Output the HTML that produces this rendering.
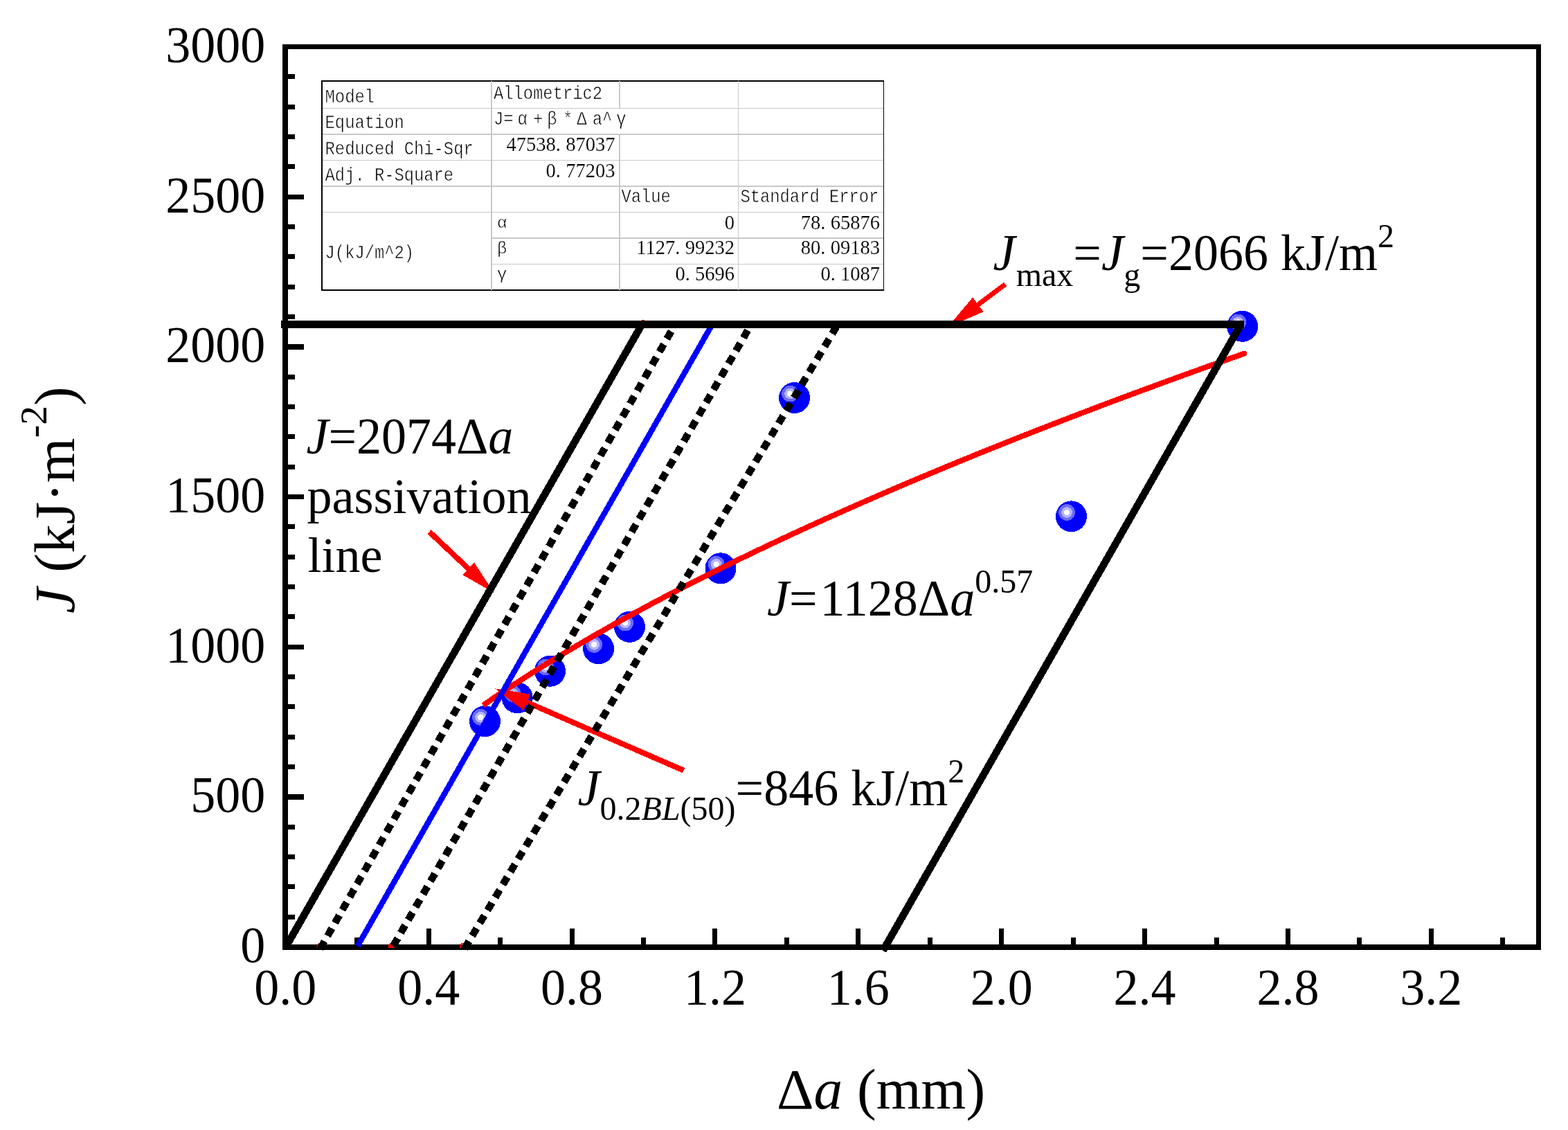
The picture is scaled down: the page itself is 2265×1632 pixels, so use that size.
<!DOCTYPE html>
<html lang="en"><head><meta charset="utf-8"><title>J-R curve</title>
<style>
html,body{margin:0;padding:0;background:#fff;}
body{width:2265px;height:1632px;}
svg{display:block;}
.t{font-family:"Liberation Serif",serif;fill:#000;}
.i{font-style:italic;}
.tb{font-family:"Liberation Mono",monospace;font-size:23.8px;fill:#000;stroke:#fff;stroke-width:0.5;}
.tn{font-family:"Liberation Serif",serif;font-size:28.56px;fill:#000;stroke:#fff;stroke-width:0.15;}
</style></head><body>
<svg width="2265" height="1632" viewBox="0 0 2265 1632">
<rect width="2265" height="1632" fill="#fff"/>
<g id="frame" fill="#000" shape-rendering="crispEdges">
<rect x="408" y="64" width="8" height="1308"/>
<rect x="408" y="64" width="1818" height="7"/>
<rect x="2219" y="64" width="7" height="1308"/>
<rect x="408" y="1364" width="1818" height="8"/>
<rect x="416" y="1321" width="10" height="7"/>
<rect x="416" y="1277" width="10" height="7"/>
<rect x="416" y="1234" width="10" height="7"/>
<rect x="416" y="1191" width="10" height="7"/>
<rect x="416" y="1147" width="23" height="8"/>
<rect x="416" y="1104" width="10" height="7"/>
<rect x="416" y="1061" width="10" height="7"/>
<rect x="416" y="1017" width="10" height="7"/>
<rect x="416" y="974" width="10" height="7"/>
<rect x="416" y="931" width="23" height="7"/>
<rect x="416" y="887" width="10" height="7"/>
<rect x="416" y="844" width="10" height="7"/>
<rect x="416" y="801" width="10" height="7"/>
<rect x="416" y="757" width="10" height="7"/>
<rect x="416" y="714" width="23" height="7"/>
<rect x="416" y="671" width="10" height="7"/>
<rect x="416" y="627" width="10" height="7"/>
<rect x="416" y="584" width="10" height="7"/>
<rect x="416" y="541" width="10" height="7"/>
<rect x="416" y="497" width="23" height="8"/>
<rect x="416" y="454" width="10" height="7"/>
<rect x="416" y="411" width="10" height="7"/>
<rect x="416" y="367" width="10" height="7"/>
<rect x="416" y="324" width="10" height="7"/>
<rect x="416" y="281" width="23" height="7"/>
<rect x="416" y="237" width="10" height="7"/>
<rect x="416" y="194" width="10" height="7"/>
<rect x="416" y="151" width="10" height="7"/>
<rect x="416" y="107" width="10" height="7"/>
<rect x="512" y="1354" width="7" height="10"/>
<rect x="616" y="1341" width="7" height="23"/>
<rect x="719" y="1354" width="7" height="10"/>
<rect x="823" y="1341" width="7" height="23"/>
<rect x="926" y="1354" width="7" height="10"/>
<rect x="1029" y="1341" width="7" height="23"/>
<rect x="1133" y="1354" width="7" height="10"/>
<rect x="1236" y="1341" width="7" height="23"/>
<rect x="1340" y="1354" width="7" height="10"/>
<rect x="1443" y="1341" width="7" height="23"/>
<rect x="1547" y="1354" width="7" height="10"/>
<rect x="1650" y="1341" width="7" height="23"/>
<rect x="1754" y="1354" width="7" height="10"/>
<rect x="1857" y="1341" width="7" height="23"/>
<rect x="1960" y="1354" width="7" height="10"/>
<rect x="2064" y="1341" width="7" height="23"/>
<rect x="2167" y="1354" width="7" height="10"/>
</g>
<g id="ticklabels" class="t" font-size="72">
<text transform="translate(383.2 1389.9) scale(1 1.028)" text-anchor="end">0</text>
<text transform="translate(383.2 1173.27) scale(1 1.028)" text-anchor="end">500</text>
<text transform="translate(383.2 956.65) scale(1 1.028)" text-anchor="end">1000</text>
<text transform="translate(383.2 740.02) scale(1 1.028)" text-anchor="end">1500</text>
<text transform="translate(383.2 523.4) scale(1 1.028)" text-anchor="end">2000</text>
<text transform="translate(383.2 306.77) scale(1 1.028)" text-anchor="end">2500</text>
<text transform="translate(383.2 90.15) scale(1 1.028)" text-anchor="end">3000</text>
<text transform="translate(412.3 1451) scale(1 1.028)" text-anchor="middle">0.0</text>
<text transform="translate(619.18 1451) scale(1 1.028)" text-anchor="middle">0.4</text>
<text transform="translate(826.06 1451) scale(1 1.028)" text-anchor="middle">0.8</text>
<text transform="translate(1032.94 1451) scale(1 1.028)" text-anchor="middle">1.2</text>
<text transform="translate(1239.82 1451) scale(1 1.028)" text-anchor="middle">1.6</text>
<text transform="translate(1446.7 1451) scale(1 1.028)" text-anchor="middle">2.0</text>
<text transform="translate(1653.58 1451) scale(1 1.028)" text-anchor="middle">2.4</text>
<text transform="translate(1860.46 1451) scale(1 1.028)" text-anchor="middle">2.8</text>
<text transform="translate(2067.34 1451) scale(1 1.028)" text-anchor="middle">3.2</text>
</g>
<text id="xtitle" class="t" font-size="83.3" x="1122" y="1601">Δ<tspan class="i">a</tspan> (mm)</text>
<text id="ytitle" class="t" font-size="83.3" transform="translate(106.6 886) rotate(-90)"><tspan class="i">J</tspan><tspan dx="1.5"> (kJ·m</tspan><tspan font-size="55.56" dy="-39.98">-2</tspan><tspan dy="39.98">)</tspan></text>
<g id="data" shape-rendering="crispEdges">
<g transform="translate(700.5 1041.7)"><circle r="22.5" fill="#0000ff"/><circle cx="-6.4" cy="-5.9" r="11.9" fill="#6b6bff"/><circle cx="-6.4" cy="-5.9" r="7.9" fill="#b4b4ff"/><circle cx="-6.4" cy="-5.9" r="4.2" fill="#fafaff"/></g>
<g transform="translate(747.2 1007.8)"><circle r="22.5" fill="#0000ff"/><circle cx="-6.4" cy="-5.9" r="11.9" fill="#6b6bff"/><circle cx="-6.4" cy="-5.9" r="7.9" fill="#b4b4ff"/><circle cx="-6.4" cy="-5.9" r="4.2" fill="#fafaff"/></g>
<g transform="translate(794.5 969.3)"><circle r="22.5" fill="#0000ff"/><circle cx="-6.4" cy="-5.9" r="11.9" fill="#6b6bff"/><circle cx="-6.4" cy="-5.9" r="7.9" fill="#b4b4ff"/><circle cx="-6.4" cy="-5.9" r="4.2" fill="#fafaff"/></g>
<g transform="translate(864.6 936.8)"><circle r="22.5" fill="#0000ff"/><circle cx="-6.4" cy="-5.9" r="11.9" fill="#6b6bff"/><circle cx="-6.4" cy="-5.9" r="7.9" fill="#b4b4ff"/><circle cx="-6.4" cy="-5.9" r="4.2" fill="#fafaff"/></g>
<g transform="translate(909.5 905.4)"><circle r="22.5" fill="#0000ff"/><circle cx="-6.4" cy="-5.9" r="11.9" fill="#6b6bff"/><circle cx="-6.4" cy="-5.9" r="7.9" fill="#b4b4ff"/><circle cx="-6.4" cy="-5.9" r="4.2" fill="#fafaff"/></g>
<g transform="translate(1041 820.8)"><circle r="22.5" fill="#0000ff"/><circle cx="-6.4" cy="-5.9" r="11.9" fill="#6b6bff"/><circle cx="-6.4" cy="-5.9" r="7.9" fill="#b4b4ff"/><circle cx="-6.4" cy="-5.9" r="4.2" fill="#fafaff"/></g>
<g transform="translate(1147.6 574.5)"><circle r="22.5" fill="#0000ff"/><circle cx="-6.4" cy="-5.9" r="11.9" fill="#6b6bff"/><circle cx="-6.4" cy="-5.9" r="7.9" fill="#b4b4ff"/><circle cx="-6.4" cy="-5.9" r="4.2" fill="#fafaff"/></g>
<g transform="translate(1547.5 745.9)"><circle r="22.5" fill="#0000ff"/><circle cx="-6.4" cy="-5.9" r="11.9" fill="#6b6bff"/><circle cx="-6.4" cy="-5.9" r="7.9" fill="#b4b4ff"/><circle cx="-6.4" cy="-5.9" r="4.2" fill="#fafaff"/></g>
<g transform="translate(1794.7 471.3)"><circle r="22.5" fill="#0000ff"/><circle cx="-6.4" cy="-5.9" r="11.9" fill="#6b6bff"/><circle cx="-6.4" cy="-5.9" r="7.9" fill="#b4b4ff"/><circle cx="-6.4" cy="-5.9" r="4.2" fill="#fafaff"/></g>
</g>
<polyline id="fit" shape-rendering="crispEdges" points="697.79,1018.72 706.96,1012.39 716.12,1006.15 725.28,999.99 734.45,993.91 743.61,987.9 752.77,981.96 761.94,976.09 771.1,970.28 780.26,964.54 789.43,958.86 798.59,953.24 807.75,947.68 816.91,942.17 826.08,936.71 835.24,931.31 844.4,925.96 853.57,920.65 862.73,915.4 871.89,910.18 881.06,905.02 890.22,899.89 899.38,894.81 908.54,889.77 917.71,884.77 926.87,879.81 936.03,874.89 945.2,870 954.36,865.15 963.52,860.33 972.69,855.55 981.85,850.8 991.01,846.09 1000.18,841.41 1009.34,836.75 1018.5,832.13 1027.66,827.54 1036.83,822.98 1045.99,818.45 1055.15,813.94 1064.32,809.47 1073.48,805.02 1082.64,800.59 1091.81,796.19 1100.97,791.82 1110.13,787.47 1119.3,783.15 1128.46,778.85 1137.62,774.58 1146.78,770.32 1155.95,766.09 1165.11,761.89 1174.27,757.7 1183.44,753.54 1192.6,749.4 1201.76,745.28 1210.93,741.17 1220.09,737.09 1229.25,733.03 1238.41,728.99 1247.58,724.97 1256.74,720.97 1265.9,716.98 1275.07,713.02 1284.23,709.07 1293.39,705.14 1302.56,701.23 1311.72,697.33 1320.88,693.45 1330.05,689.59 1339.21,685.75 1348.37,681.92 1357.53,678.11 1366.7,674.31 1375.86,670.53 1385.02,666.76 1394.19,663.01 1403.35,659.28 1412.51,655.56 1421.68,651.85 1430.84,648.16 1440,644.48 1449.17,640.82 1458.33,637.17 1467.49,633.54 1476.65,629.92 1485.82,626.31 1494.98,622.71 1504.14,619.13 1513.31,615.56 1522.47,612.01 1531.63,608.46 1540.8,604.93 1549.96,601.41 1559.12,597.9 1568.29,594.41 1577.45,590.93 1586.61,587.46 1595.77,584 1604.94,580.55 1614.1,577.11 1623.26,573.69 1632.43,570.27 1641.59,566.87 1650.75,563.48 1659.92,560.1 1669.08,556.73 1678.24,553.37 1687.4,550.02 1696.57,546.68 1705.73,543.35 1714.89,540.03 1724.06,536.72 1733.22,533.42 1742.38,530.13 1751.55,526.85 1760.71,523.58 1769.87,520.32 1779.04,517.07 1788.2,513.83 1797.36,510.6" fill="none" stroke="#ff0000" stroke-width="8" stroke-linecap="butt" stroke-linejoin="round"/>
<circle cx="1797.36" cy="510.6" r="4" fill="#ff0000" shape-rendering="crispEdges"/>
<g id="arrows" shape-rendering="crispEdges">
<line x1="620.1" y1="768" x2="678.06" y2="822.68" stroke="#ff0000" stroke-width="8"/><polygon points="713.7,856.3 668.2,830.21 685.01,812.39" fill="#ff0000"/>
<line x1="1452.2" y1="410.6" x2="1411.31" y2="441.05" stroke="#ff0000" stroke-width="7"/><polygon points="1368.8,472.7 1405.15,429.43 1420.68,450.28" fill="#ff0000"/>
<line x1="987.7" y1="1112.8" x2="759.32" y2="1013.53" stroke="#ff0000" stroke-width="8"/><polygon points="715.3,994.4 766.24,1002.64 756.07,1026.02" fill="#ff0000"/>
</g>
<g id="marks" fill="#ff0000" stroke="none" shape-rendering="crispEdges">
<path d="M457 1368.4L458.2 1365.2L460.4 1361.6L461.2 1362.2L459.2 1365.6L458.2 1368.6Z"/>
<path d="M561.1 1364L563.6 1361.8L570 1368.9H561.1Z"/>
<path d="M666.2 1361.9H669.2L666.4 1366.4L666.2 1369H664.6L664 1367Z"/>
<rect x="927" y="462" width="4" height="1"/>
</g>
<g id="lines" fill="none" shape-rendering="crispEdges">
<line x1="516.46" y1="1366.5" x2="1027.94" y2="470" stroke="#0000ff" stroke-width="8.2"/>
<line x1="462.53" y1="1370.42" x2="973.21" y2="472" stroke="#000" stroke-width="10.5" stroke-dasharray="12.6 8.96"/>
<line x1="568.12" y1="1366.06" x2="1083.08" y2="472" stroke="#000" stroke-width="10.5" stroke-dasharray="12.6 8.96"/>
<line x1="671.03" y1="1370.13" x2="1208.11" y2="472" stroke="#000" stroke-width="10.5" stroke-dasharray="12.6 8.96"/>
<line x1="412.7" y1="1368" x2="927.3" y2="468.5" stroke="#000" stroke-width="10.6"/>
<line x1="1275.44" y1="1373" x2="1792.6" y2="468.5" stroke="#000" stroke-width="10.6"/>
<rect x="406" y="463" width="1391" height="11" fill="#000" shape-rendering="crispEdges"/>
</g>
<g id="annotations" class="t" font-size="72">
<text transform="translate(442.5 654.7) scale(1 1.028)"><tspan class="i">J</tspan>=2074Δ<tspan class="i">a</tspan></text>
<text x="443.5" y="740.5">passivation</text>
<text x="444.5" y="826.3">line</text>
<text transform="translate(1434.5 390) scale(1 1.028)"><tspan class="i">J</tspan><tspan font-size="48.02" dx="1.2" dy="22">max</tspan><tspan dy="-22">=</tspan><tspan class="i">J</tspan><tspan font-size="48.02" dx="0.5" dy="22">g</tspan><tspan dy="-22">=2066 kJ/m</tspan><tspan font-size="48.02" dy="-32">2</tspan></text>
<text transform="translate(1108 889) scale(1 1.028)"><tspan class="i">J</tspan>=<tspan dx="4">1128Δ</tspan><tspan class="i">a</tspan><tspan font-size="48.02" dy="-32">0.57</tspan></text>
<text transform="translate(834.6 1162.5) scale(1 1.028)"><tspan class="i">J</tspan><tspan font-size="48.02" dy="20.5">0.2<tspan class="i">BL</tspan>(50)</tspan><tspan dy="-20.5">=846 kJ/m</tspan><tspan font-size="48.02" dy="-32">2</tspan></text>
</g>
<g id="table">
<rect x="465.3" y="117.3" width="811.4" height="301.4" fill="#fff"/>
<path d="M464 116H1277V420H464Z M466 118V418H1276V118Z" fill="#000" fill-rule="evenodd" shape-rendering="crispEdges"/>
<g fill="#c8c8c8" shape-rendering="crispEdges">
<rect x="466" y="156" width="810" height="1"/>
<rect x="466" y="193" width="810" height="2"/>
<rect x="466" y="231" width="810" height="1"/>
<rect x="466" y="268" width="810" height="2"/>
<rect x="466" y="306" width="810" height="1"/>
<rect x="709.5" y="343" width="566.5" height="2"/>
<rect x="709.5" y="381" width="566.5" height="1"/>
<rect x="709" y="117" width="2" height="302"/>
<rect x="894" y="117" width="2" height="40"/>
<rect x="894" y="194" width="2" height="225"/>
<rect x="1066" y="117" width="1" height="302"/>
</g>
<g class="tb">
<text transform="translate(469.6 147.7) scale(1 1.19)">Model</text>
<text transform="translate(469.6 185.4) scale(1 1.19)">Equation</text>
<text transform="translate(469.6 222.6) scale(1 1.19)">Reduced Chi-Sqr</text>
<text transform="translate(469.6 260.5) scale(1 1.19)">Adj. R-Square</text>
<text transform="translate(469.6 373.4) scale(1 1.19)">J(kJ/m^2)</text>
<text transform="translate(713 143.2) scale(1 1.19)">Allometric2</text>
<text transform="translate(713 180) scale(1 1.19)">J=<tspan dx="5.94">α</tspan><tspan dx="8.34">+</tspan><tspan dx="5.94">β</tspan><tspan dx="8.34">*</tspan><tspan dx="5.94">Δ</tspan><tspan dx="8.34">a</tspan>^<tspan dx="5.94">γ</tspan></text>
<text class="tn" transform="translate(888.5 217.7) scale(1 1.02)" text-anchor="end">47538.<tspan dx="7.14">87037</tspan></text>
<text class="tn" transform="translate(888.5 255.6) scale(1 1.02)" text-anchor="end">0.<tspan dx="7.14">77203</tspan></text>
<text x="718" y="328.6">α</text>
<text x="718" y="365.6">β</text>
<text x="718" y="403.2">γ</text>
<text transform="translate(897.5 292.3) scale(1 1.19)">Value</text>
<text transform="translate(1069.5 292.3) scale(1 1.19)">Standard Error</text>
<text class="tn" transform="translate(1061 330.5) scale(1 1.02)" text-anchor="end">0</text>
<text class="tn" transform="translate(1061 367.4) scale(1 1.02)" text-anchor="end">1127.<tspan dx="7.14">99232</tspan></text>
<text class="tn" transform="translate(1061 405) scale(1 1.02)" text-anchor="end">0.<tspan dx="7.14">5696</tspan></text>
<text class="tn" transform="translate(1271 330.5) scale(1 1.02)" text-anchor="end">78.<tspan dx="7.14">65876</tspan></text>
<text class="tn" transform="translate(1271 367.4) scale(1 1.02)" text-anchor="end">80.<tspan dx="7.14">09183</tspan></text>
<text class="tn" transform="translate(1271 405) scale(1 1.02)" text-anchor="end">0.<tspan dx="7.14">1087</tspan></text>
</g>
</g>
</svg>
</body></html>
